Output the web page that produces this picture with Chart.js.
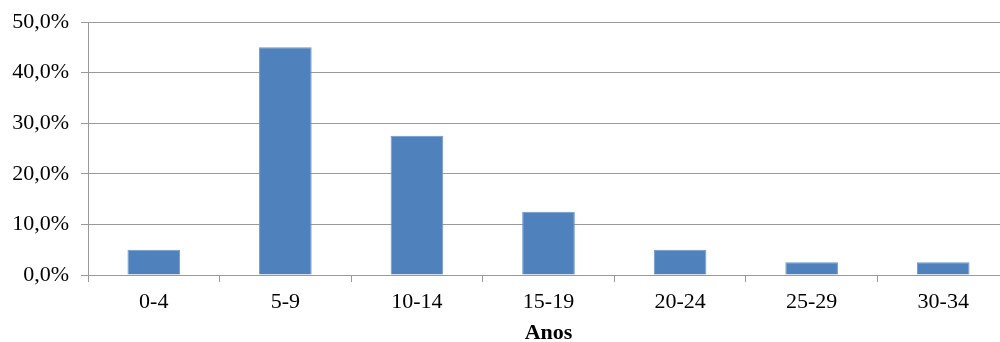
<!DOCTYPE html>
<html>
<head>
<meta charset="utf-8">
<script src="https://cdn.jsdelivr.net/npm/chart.js@4/dist/chart.umd.min.js"></script>
<style>
  html, body { margin: 0; padding: 0; background: #fff; overflow: hidden; }
  #wrap { width: 1020px; height: 342px; }
</style>
</head>
<body>
<div id="wrap"><canvas id="c" width="1020" height="342"></canvas></div>
<script>
// Faixas etárias (anos)
const faixas = ['0-4', '5-9', '10-14', '15-19', '20-24', '25-29', '30-34'];
// Percentual de casos por faixa
const percentuais = [5.0, 45.0, 27.5, 12.5, 5.0, 2.5, 2.5];
// Marcas do eixo Y
const yMin = 0;
const yMax = 50;
const yPasso = 10;

const cinza = '#9a9a9a';
const serif = '"Liberation Serif", "Times New Roman", serif';

new Chart(document.getElementById('c'), {
  type: 'bar',
  data: {
    labels: faixas,
    datasets: [{
      data: percentuais,
      backgroundColor: '#4f81bd',
      borderColor: '#6d97cb',
      borderWidth: 1,
      barPercentage: 0.4,
      categoryPercentage: 1.0
    }]
  },
  options: {
    responsive: false,
    animation: false,
    devicePixelRatio: 1,
    layout: { padding: { top: 22, right: 11, left: 0, bottom: 0 } },
    plugins: { legend: { display: false }, tooltip: { enabled: false } },
    scales: {
      x: {
        offset: true,
        grid: {
          offset: true,
          drawOnChartArea: false,
          drawTicks: true,
          tickLength: 7,
          color: cinza
        },
        border: { display: true, color: cinza, width: 1 },
        ticks: {
          color: '#000',
          font: { family: serif, size: 22 },
          padding: 7,
          maxRotation: 0
        },
        title: {
          display: true,
          text: 'Anos',
          color: '#000',
          font: { family: serif, size: 22, weight: 'bold', lineHeight: 0.8 },
          padding: { top: 4, bottom: 0 }
        },
        afterFit: (s) => { s.height = 67; }
      },
      y: {
        min: yMin,
        max: yMax,
        ticks: {
          stepSize: yPasso,
          color: '#000',
          font: { family: serif, size: 22 },
          padding: 12,
          callback: (v) => v.toFixed(1).replace('.', ',') + '%'
        },
        grid: { color: cinza, lineWidth: 1, tickLength: 7 },
        border: { display: true, color: cinza, width: 1 },
        afterFit: (s) => {
          s.width = 88;
          // a margem superior fica só com o padding do layout
          s.paddingTop = 0;
          s.paddingBottom = 0;
        }
      }
    }
  }
});
</script>
</body>
</html>
